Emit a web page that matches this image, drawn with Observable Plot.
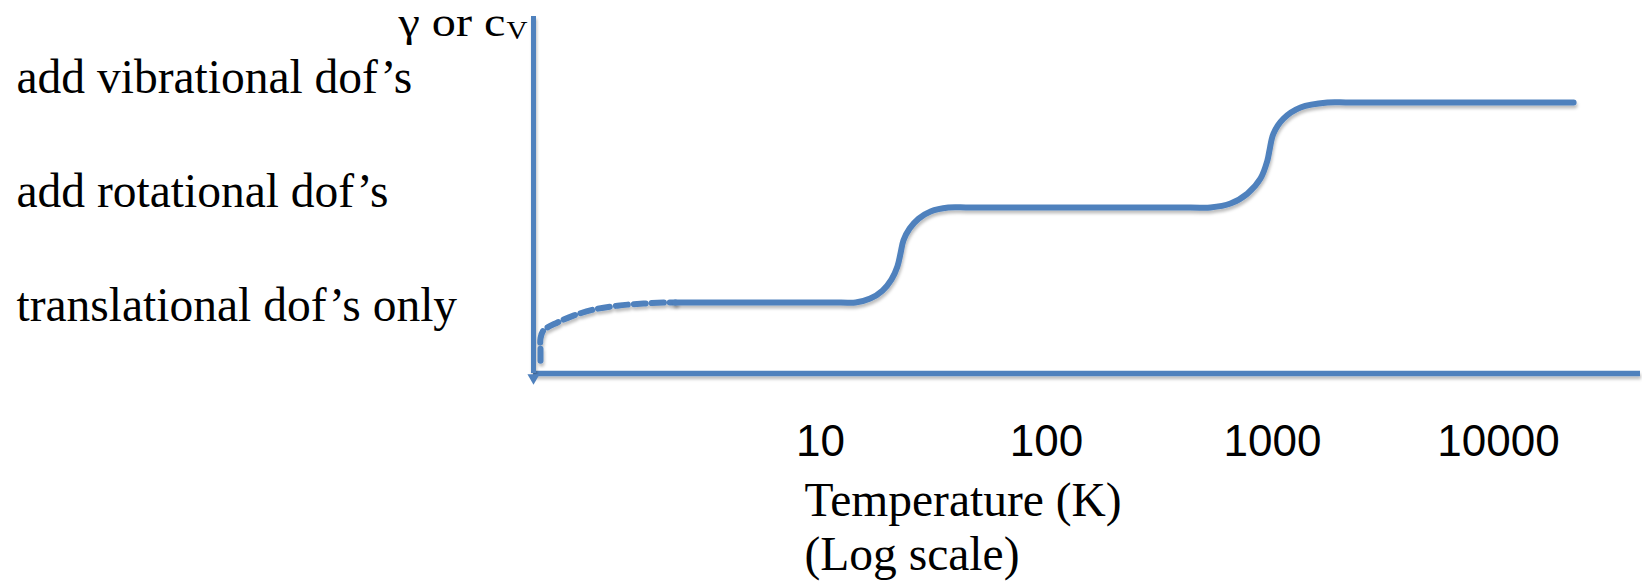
<!DOCTYPE html>
<html><head><meta charset="utf-8">
<script src="https://cdn.jsdelivr.net/npm/d3@7"></script>
<script src="https://cdn.jsdelivr.net/npm/@observablehq/plot@0.6"></script>
<style>body{margin:0;background:#fff} #chart{width:1642px;height:584px}</style>
</head><body><div id="chart"></div>
<script>
// x tick labels (temperature, K, log scale)
const tickValues = [10, 100, 1000, 10000];
// level labels on the left, with the y (arbitrary units) of their baselines
const levelLabels = ["add vibrational dof’s", "add rotational dof’s", "translational dof’s only"];
const levelLabelY = [7.87, 4.65, 1.48];
// dashed low-temperature part of the curve
const dashedT = [0.577, 0.577, 0.577, 0.594, 0.686, 0.807, 0.99, 1.265, 1.65, 2.10, 2.28];
const dashedY = [0.36, 0.67, 0.98, 1.20, 1.43, 1.62, 1.79, 1.90, 1.96, 1.99, 1.99];
// solid part of the curve (γ or c_V, arbitrary units)
const solidT = [2.28, 12.3, 14.3, 16.6, 18.8, 20.6, 21.9, 22.6, 23.3, 24.8, 27.2, 30.7, 36.8, 46.1, 433, 532, 652, 775, 885, 950, 970, 1010, 1119, 1331, 1750, 2213, 21500];
const solidY = [1.99, 1.99, 1.99, 2.10, 2.32, 2.63, 3.00, 3.36, 3.73, 4.06, 4.34, 4.54, 4.65, 4.65, 4.65, 4.65, 4.76, 5.04, 5.46, 5.97, 6.25, 6.72, 7.14, 7.45, 7.59, 7.59, 7.59];

const blue = "#4f81bd";
const serif = "'Liberation Serif', 'Times New Roman', serif";
const xDomain = [0.5373, 42500];
const yDomain = [0, 10];

const dashed = dashedT.map((t, i) => ({T: t, v: dashedY[i]}));
const solid = solidT.map((t, i) => ({T: t, v: solidY[i]}));
const labels = levelLabels.map((s, i) => ({text: s, y: levelLabelY[i]}));

const svg = Plot.plot({
  width: 1642,
  height: 584,
  marginLeft: 533,
  marginRight: 2,
  marginTop: 16,
  marginBottom: 211,
  style: {background: "white", overflow: "visible"},
  x: {type: "log", domain: xDomain, label: null},
  y: {domain: yDomain, label: null, axis: null},
  marks: [
    Plot.axisX({ticks: tickValues, tickSize: 0, tickPadding: 51, tickFormat: d => String(d),
      fontSize: 44, fontFamily: "'Liberation Sans', Arial, sans-serif", fill: "black", label: null}),
    Plot.ruleY([0], {stroke: blue, strokeWidth: 5.5}),
    Plot.ruleX([xDomain[0]], {y1: 0, y2: yDomain[1], stroke: blue, strokeWidth: 5}),
    Plot.dot([{T: xDomain[0], v: -0.12}], {x: "T", y: "v", symbol: "triangle", rotate: 180, r: 4.5, fill: blue, stroke: "none"}),
    Plot.line(dashed, {x: "T", y: "v", curve: "catmull-rom", stroke: blue, strokeWidth: 6, strokeDasharray: "12 6"}),
    Plot.line(solid, {x: "T", y: "v", curve: "catmull-rom", stroke: blue, strokeWidth: 6}),
    Plot.text(labels, {y: "y", text: "text", frameAnchor: "left", dx: -517, textAnchor: "start", lineAnchor: "bottom",
      fontSize: 47.5, fontFamily: serif, fill: "black"}),
    Plot.text(["γ or c"], {frameAnchor: "top-left", dx: -28, dy: 19, textAnchor: "end", lineAnchor: "bottom",
      fontSize: 42, fontFamily: serif, fill: "black"}),
    Plot.text(["V"], {frameAnchor: "top-left", dx: -27, dy: 22, textAnchor: "start", lineAnchor: "bottom",
      fontSize: 26, fontFamily: serif, fill: "black"}),
    Plot.text(["Temperature (K)"], {frameAnchor: "bottom-left", dx: 271, dy: 142, textAnchor: "start", lineAnchor: "bottom",
      fontSize: 47.5, fontFamily: serif, fill: "black"}),
    Plot.text(["(Log scale)"], {frameAnchor: "bottom-left", dx: 271, dy: 196, textAnchor: "start", lineAnchor: "bottom",
      fontSize: 47.5, fontFamily: serif, fill: "black"})
  ]
});

const s = d3.select(svg);
s.insert("defs", ":first-child").html(
  '<filter id="sh" filterUnits="userSpaceOnUse" x="0" y="0" width="1642" height="584">' +
  '<feDropShadow dx="1" dy="3" stdDeviation="1.5" flood-color="#000" flood-opacity="0.25"/></filter>');
s.selectAll('g[aria-label="line"], g[aria-label="rule"]').attr("filter", "url(#sh)");
// the slide's y-axis label is horizontally stretched
s.selectAll("text").each(function () {
  const t = this.textContent;
  if (t === "γ or c") d3.select(this).attr("textLength", 107).attr("lengthAdjust", "spacingAndGlyphs");
  if (t === "V") d3.select(this).attr("textLength", 21).attr("lengthAdjust", "spacingAndGlyphs");
});
document.getElementById("chart").appendChild(svg);
</script>
</body></html>
